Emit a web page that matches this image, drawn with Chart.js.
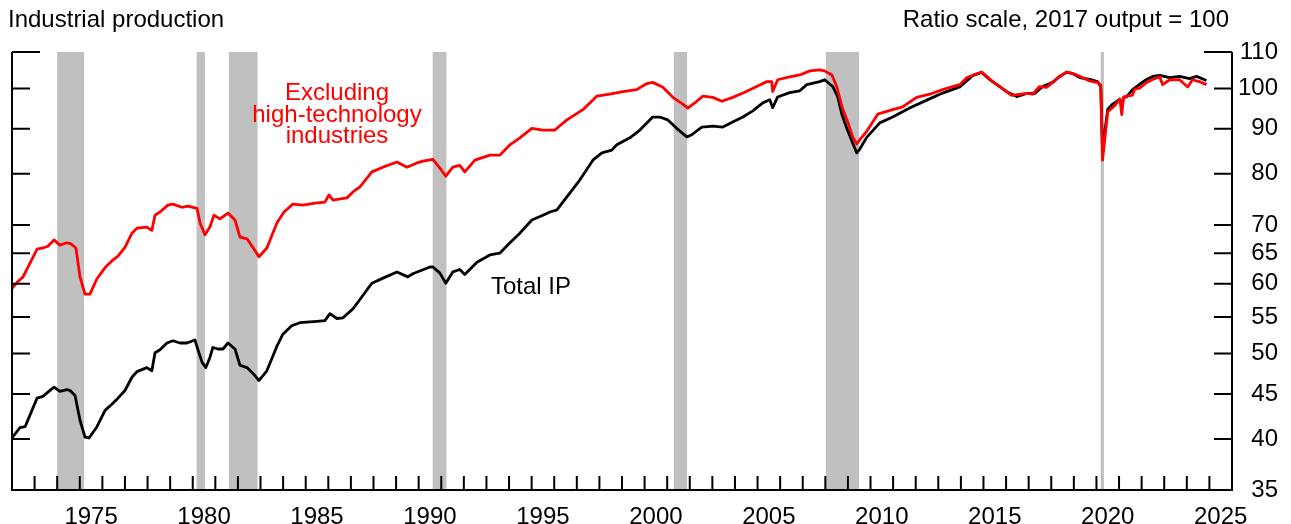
<!DOCTYPE html>
<html>
<head>
<meta charset="utf-8">
<script src="https://cdn.jsdelivr.net/npm/chart.js@4.4.1/dist/chart.umd.min.js"></script>
<style>
  body { margin: 0; background: #fff; font-family: "Liberation Sans", Arial, sans-serif; }
  #wrap { position: relative; width: 1291px; height: 524px; }
  .note { position: absolute; font-size: 24px; line-height: 24px; white-space: nowrap; color: #000; }
</style>
</head>
<body>
<div id="wrap">
  <canvas id="ipChart"></canvas>
  <div class="note" style="left:8px;top:7px">Industrial production</div>
  <div class="note" style="right:62px;top:7px">Ratio scale, 2017 output = 100</div>
  <div class="note" style="left:237px;top:81px;width:200px;text-align:center;line-height:21.5px;color:#ff0000">Excluding<br>high-technology<br>industries</div>
  <div class="note" style="left:491px;top:274px">Total IP</div>
</div>
<script>
// dates are decimal years, values index 2017 = 100
const totalDates = [
  1972.00, 1972.35, 1972.58, 1973.11, 1973.37, 1973.59, 1973.86, 1974.12, 1974.43, 1974.57,
  1974.79, 1975.01, 1975.23, 1975.41, 1975.76, 1976.12, 1976.42, 1976.69, 1977.00, 1977.31,
  1977.53, 1977.97, 1978.19, 1978.33, 1978.55, 1978.86, 1979.12, 1979.43, 1979.74, 1980.10,
  1980.23, 1980.41, 1980.58, 1980.76, 1980.89, 1981.12, 1981.34, 1981.56, 1981.87, 1982.09,
  1982.40, 1982.66, 1982.93, 1983.28, 1983.73, 1983.99, 1984.39, 1984.74, 1985.50, 1985.85,
  1986.07, 1986.38, 1986.65, 1987.09, 1987.53, 1987.93, 1988.42, 1989.04, 1989.52, 1989.74,
  1990.50, 1990.63, 1990.94, 1991.20, 1991.51, 1991.82, 1992.04, 1992.58, 1993.15, 1993.59,
  1994.04, 1994.48, 1995.01, 1995.50, 1995.81, 1996.12, 1996.56, 1997.13, 1997.71, 1998.11,
  1998.55, 1998.77, 1999.35, 1999.79, 2000.36, 2000.67, 2001.03, 2001.42, 2001.87, 2002.09,
  2002.53, 2003.02, 2003.46, 2003.90, 2004.35, 2004.79, 2005.23, 2005.54, 2005.67, 2005.89,
  2006.42, 2006.87, 2007.18, 2007.75, 2007.97, 2008.33, 2008.55, 2008.73, 2008.95, 2009.21,
  2009.39, 2009.52, 2009.83, 2010.41, 2010.98, 2011.73, 2012.49, 2013.19, 2013.95, 2014.52,
  2014.92, 2015.27, 2015.72, 2016.07, 2016.47, 2016.91, 2017.27, 2017.62, 2018.06, 2018.37,
  2018.68, 2018.95, 2019.26, 2019.70, 2020.05, 2020.19, 2020.27, 2020.50, 2020.72, 2021.03,
  2021.12, 2021.20, 2021.34, 2021.60, 2021.91, 2022.22, 2022.49, 2022.80, 2023.24, 2023.68,
  2024.12, 2024.43, 2024.87
];
const totalValues = [
  40.1, 41.2, 41.3, 44.5, 44.7, 45.2, 45.8, 45.3, 45.5, 45.4,
  44.8, 42.0, 40.2, 40.1, 41.3, 43.1, 43.8, 44.5, 45.4, 47.0,
  47.7, 48.2, 47.8, 50.1, 50.5, 51.4, 51.7, 51.4, 51.4, 51.8,
  50.5, 48.9, 48.2, 49.5, 50.8, 50.6, 50.6, 51.4, 50.6, 48.5,
  48.2, 47.5, 46.6, 47.8, 51.0, 52.6, 53.8, 54.2, 54.4, 54.5,
  55.5, 54.8, 54.9, 56.2, 58.2, 60.1, 60.9, 61.9, 61.1, 61.6,
  62.7, 62.7, 61.7, 60.1, 61.9, 62.3, 61.5, 63.5, 64.7, 65.0,
  66.8, 68.5, 70.9, 71.8, 72.4, 72.8, 75.3, 78.7, 82.9, 84.5,
  85.1, 86.3, 87.9, 89.7, 92.8, 92.8, 92.1, 90.1, 88.1, 88.6,
  90.4, 90.6, 90.4, 91.6, 92.8, 94.3, 96.3, 97.1, 95.1, 97.8,
  98.9, 99.4, 101.0, 101.8, 102.3, 100.5, 97.8, 93.5, 90.1, 86.7,
  84.5, 85.3, 88.0, 91.4, 92.8, 95.0, 97.0, 98.8, 100.4, 103.4,
  104.3, 102.4, 100.5, 99.0, 97.9, 98.7, 98.7, 100.5, 101.6, 103.2,
  104.3, 104.0, 102.9, 102.4, 101.8, 100.5, 85.3, 94.7, 96.0, 97.2,
  95.5, 97.6, 97.9, 99.7, 101.1, 102.4, 103.2, 103.5, 102.9, 103.2,
  102.6, 103.2, 102.1
];

const exHiTechDates = [
  1972.00, 1972.22, 1972.49, 1973.11, 1973.37, 1973.59, 1973.86, 1974.12, 1974.43, 1974.61,
  1974.83, 1975.01, 1975.23, 1975.45, 1975.76, 1976.12, 1976.42, 1976.69, 1977.00, 1977.31,
  1977.53, 1977.97, 1978.19, 1978.33, 1978.55, 1978.90, 1979.12, 1979.52, 1979.79, 1980.19,
  1980.32, 1980.54, 1980.76, 1980.94, 1981.20, 1981.56, 1981.87, 1982.09, 1982.40, 1982.66,
  1982.93, 1983.28, 1983.73, 1984.04, 1984.43, 1984.88, 1985.41, 1985.85, 1986.03, 1986.20,
  1986.82, 1987.09, 1987.40, 1987.93, 1988.42, 1989.04, 1989.48, 1989.92, 1990.19, 1990.63,
  1990.94, 1991.20, 1991.51, 1991.82, 1992.04, 1992.49, 1993.15, 1993.59, 1994.04, 1994.48,
  1995.01, 1995.50, 1996.03, 1996.56, 1997.27, 1997.88, 1998.46, 1999.04, 1999.65, 2000.10,
  2000.36, 2000.81, 2001.25, 2001.69, 2001.91, 2002.31, 2002.58, 2003.02, 2003.42, 2003.90,
  2004.43, 2004.96, 2005.41, 2005.63, 2005.67, 2005.89, 2006.42, 2006.87, 2007.31, 2007.75,
  2007.97, 2008.29, 2008.51, 2008.69, 2008.78, 2009.00, 2009.21, 2009.39, 2009.52, 2009.83,
  2010.32, 2010.98, 2011.42, 2012.04, 2012.62, 2013.19, 2013.95, 2014.27, 2014.92, 2015.40,
  2016.02, 2016.25, 2016.91, 2017.18, 2017.48, 2017.79, 2018.06, 2018.37, 2018.68, 2019.13,
  2019.70, 2020.10, 2020.19, 2020.27, 2020.50, 2020.81, 2021.04, 2021.12, 2021.20, 2021.60,
  2021.69, 2021.91, 2022.22, 2022.49, 2022.80, 2022.93, 2023.24, 2023.68, 2024.04, 2024.25,
  2024.56, 2024.87
];
const exHiTechValues = [
  59.3, 60.2, 61.1, 65.7, 65.9, 66.2, 67.3, 66.4, 66.8, 66.6,
  65.9, 61.1, 58.4, 58.4, 60.8, 62.6, 63.7, 64.5, 66.0, 68.5,
  69.4, 69.6, 69.0, 71.8, 72.4, 73.7, 73.9, 73.3, 73.5, 73.1,
  70.4, 68.2, 69.6, 71.8, 71.1, 72.2, 70.9, 67.8, 67.5, 66.0,
  64.4, 65.9, 70.4, 72.4, 73.9, 73.7, 74.1, 74.3, 75.7, 74.7,
  75.1, 76.3, 77.3, 80.4, 81.4, 82.5, 81.4, 82.3, 82.7, 83.1,
  81.2, 79.5, 81.4, 81.8, 80.4, 82.9, 84.0, 84.0, 86.3, 87.9,
  90.1, 89.7, 89.7, 92.1, 94.6, 98.0, 98.5, 99.2, 99.7, 101.3,
  101.6, 100.3, 97.7, 96.0, 95.0, 96.7, 98.0, 97.7, 96.7, 97.7,
  99.0, 100.5, 101.8, 101.8, 99.2, 102.3, 103.1, 103.6, 104.7, 105.0,
  104.7, 103.6, 100.4, 96.3, 94.6, 91.5, 88.1, 86.5, 87.4, 89.4,
  93.5, 94.6, 95.3, 97.7, 98.5, 99.7, 101.0, 102.9, 104.4, 101.8,
  99.2, 98.2, 98.7, 98.5, 100.5, 100.3, 101.6, 103.1, 104.4, 103.6,
  102.0, 101.5, 100.8, 82.9, 94.1, 95.6, 97.3, 93.4, 97.8, 98.3,
  99.8, 100.1, 101.6, 102.4, 103.1, 101.0, 102.3, 102.3, 100.4, 102.3,
  101.8, 101.0
];

// recession shading, decimal years
const recessionStart = [1974.00, 1980.17, 1981.60, 1990.62, 2001.29, 2008.02, 2020.19];
const recessionEnd   = [1975.19, 1980.54, 1982.87, 1991.23, 2001.88, 2009.49, 2020.33];

const firstYear = 1972, lastYear = 2026;
const yearLabels = [1975, 1980, 1985, 1990, 1995, 2000, 2005, 2010, 2015, 2020, 2025];
const yTicks = [35, 40, 45, 50, 55, 60, 65, 70, 80, 90, 100, 110];

function toPoints(dates, values) {
    return dates.map((d, i) => ({ x: d, y: values[i] }));
}

// grey bars behind the lines, inward tick marks and axis frame on top
const axisMarks = {
    id: "axisMarks",
    beforeDatasetsDraw(chart) {
        const { ctx, chartArea: a, scales: { x } } = chart;
        ctx.save();
        ctx.fillStyle = "#c0c0c0";
        recessionStart.forEach((s, i) => {
            const x1 = x.getPixelForValue(s);
            const x2 = x.getPixelForValue(recessionEnd[i]);
            ctx.fillRect(x1, a.top, x2 - x1, a.bottom - a.top);
        });
        ctx.restore();
    },
    afterDatasetsDraw(chart) {
        const { ctx, chartArea: a, scales: { x, y } } = chart;
        ctx.save();
        ctx.strokeStyle = "#000";
        ctx.lineWidth = 2;
        ctx.beginPath();
        ctx.moveTo(a.left, a.top);
        ctx.lineTo(a.left, a.bottom);
        ctx.lineTo(a.right, a.bottom);
        ctx.lineTo(a.right, a.top);
        yTicks.forEach(v => {
            const py = y.getPixelForValue(v);
            const len = v === yTicks[yTicks.length - 1] ? 28 : 18;
            ctx.moveTo(a.left, py);
            ctx.lineTo(a.left + len, py);
            ctx.moveTo(a.right, py);
            ctx.lineTo(a.right - len, py);
        });
        for (let yr = firstYear + 1; yr < lastYear; yr++) {
            const px = x.getPixelForValue(yr);
            ctx.moveTo(px, a.bottom);
            ctx.lineTo(px, a.bottom - 14);
        }
        ctx.stroke();
        ctx.restore();
    }
};

Chart.defaults.font.family = '"Liberation Sans", Arial, sans-serif';
Chart.defaults.font.size = 24;
Chart.defaults.color = "#000";

new Chart(document.getElementById("ipChart"), {
    type: "line",
    data: {
        datasets: [
            {
                label: "Excluding high-technology industries",
                data: toPoints(exHiTechDates, exHiTechValues),
                borderColor: "#ff0000",
                borderWidth: 2.8,
                borderJoinStyle: "round",
                pointRadius: 0,
                tension: 0
            },
            {
                label: "Total IP",
                data: toPoints(totalDates, totalValues),
                borderColor: "#000",
                borderWidth: 2.8,
                borderJoinStyle: "round",
                pointRadius: 0,
                tension: 0
            }
        ]
    },
    options: {
        responsive: true,
        maintainAspectRatio: false,
        animation: false,
        layout: { padding: { top: 52, left: 12, right: 13, bottom: 0 } },
        plugins: { legend: { display: false }, tooltip: { enabled: false } },
        scales: {
            x: {
                type: "linear",
                min: firstYear,
                max: lastYear,
                grid: { display: false },
                border: { display: false },
                afterBuildTicks: s => { s.ticks = yearLabels.map(v => ({ value: v + 0.5 })); },
                afterFit: s => { s.height = 34; },
                ticks: {
                    callback: v => String(Math.floor(v)),
                    autoSkip: false,
                    maxRotation: 0,
                    padding: 5
                }
            },
            y: {
                type: "logarithmic",
                position: "right",
                min: 35,
                max: 110,
                grid: { display: false },
                border: { display: false },
                afterBuildTicks: s => { s.ticks = yTicks.map(v => ({ value: v })); },
                afterFit: s => { s.width = 46; },
                ticks: {
                    crossAlign: "far",
                    autoSkip: false,
                    padding: 0,
                    callback: v => String(v)
                }
            }
        }
    },
    plugins: [axisMarks]
});
</script>
</body>
</html>
